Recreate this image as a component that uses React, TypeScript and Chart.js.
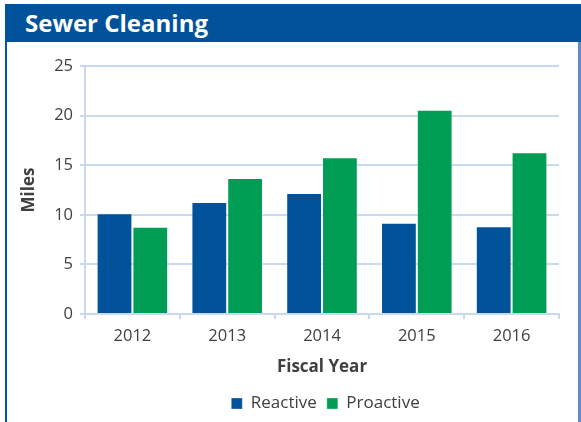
import React, { useEffect, useRef } from "react";
import { Chart, registerables } from "chart.js";

Chart.register(...registerables);

const categories = ["2012", "2013", "2014", "2015", "2016"];
const reactive = [10.15, 11.3, 12.2, 9.2, 8.85];
const proactive = [8.8, 13.7, 15.8, 20.6, 16.3];
const yTicks = [0, 5, 10, 15, 20, 25];

const BLUE = "#00529B";
const GREEN = "#009E55";
const GRID = "#C9D9EF";
const TEXT = "#404040";
const FONT = "'Open Sans', sans-serif";

const legendShift = {
  id: "legendShift",
  afterLayout(chart: any) {
    const lg = chart.legend;
    if (lg) {
      lg.left += 46;
      lg.right += 46;
    }
  },
};

export default function App() {
  const ref = useRef<HTMLCanvasElement | null>(null);

  useEffect(() => {
    if (!ref.current) return;
    const chart = new Chart(ref.current, {
      type: "bar",
      data: {
        labels: categories,
        datasets: [
          {
            label: "Reactive",
            data: reactive,
            backgroundColor: BLUE,
            borderColor: "rgba(255,255,255,0.3)",
            borderWidth: 1,
            categoryPercentage: 0.755,
            barPercentage: 1,
          },
          {
            label: "Proactive",
            data: proactive,
            backgroundColor: GREEN,
            borderColor: "rgba(255,255,255,0.3)",
            borderWidth: 1,
            categoryPercentage: 0.755,
            barPercentage: 1,
          },
        ],
      },
      plugins: [legendShift],
      options: {
        animation: false,
        responsive: false,
        maintainAspectRatio: false,
        layout: { padding: { top: 66, left: 0, right: 22, bottom: 0 } },
        plugins: {
          title: { display: false },
          tooltip: { enabled: false },
          legend: {
            position: "bottom",
            labels: {
              boxWidth: 11,
              boxHeight: 11,
              padding: 10,
              color: TEXT,
              font: { family: FONT, size: 17 },
            },
          },
        },
        scales: {
          x: {
            grid: {
              display: true,
              drawOnChartArea: false,
              drawTicks: true,
              tickLength: 5,
              color: GRID,
              lineWidth: 2,
              offset: true,
            },
            border: { color: GRID, width: 2 },
            ticks: {
              color: TEXT,
              padding: 7,
              font: { family: FONT, size: 16.5 },
            },
            title: {
              display: true,
              text: "Fiscal Year",
              color: TEXT,
              font: { family: FONT, size: 17, weight: "bold" },
              padding: { top: 0, bottom: 8 },
            },
            afterFit: (scale: any) => {
              scale.height = 71;
            },
          },
          y: {
            min: 0,
            max: 25,
            afterBuildTicks: (scale: any) => {
              scale.ticks = yTicks.map((v) => ({ value: v }));
            },
            grid: {
              color: GRID,
              lineWidth: 2,
              tickLength: 5,
            },
            border: { color: GRID, width: 2 },
            ticks: {
              color: TEXT,
              padding: 7,
              font: { family: FONT, size: 16.5 },
            },
            title: {
              display: true,
              text: "Miles",
              color: TEXT,
              font: { family: FONT, size: 17, weight: "bold" },
              padding: { top: 19, bottom: 0 },
            },
            afterFit: (scale: any) => {
              scale.width = 85;
            },
          },
        },
      },
    });
    return () => chart.destroy();
  }, []);

  return (
    <div
      style={{
        position: "fixed",
        left: 0,
        top: 0,
        width: 581,
        height: 422,
        background: "#fff",
        overflow: "hidden",
      }}
    >
      <canvas
        ref={ref}
        width={581}
        height={422}
        style={{ position: "absolute", left: 0, top: 0, width: 581, height: 422 }}
      />
      <div
        style={{
          position: "absolute",
          left: 5,
          top: 4,
          width: 2,
          height: 418,
          background: "#0055A5",
        }}
      />
      <div
        style={{
          position: "absolute",
          left: 578,
          top: 4,
          width: 3,
          height: 418,
          background: "#5B8FC9",
        }}
      />
      <div
        style={{
          position: "absolute",
          left: 6,
          top: 4,
          width: 575,
          height: 38,
          background: BLUE,
          color: "#fff",
          fontFamily: FONT,
          fontWeight: 700,
          fontSize: 24,
          lineHeight: "38px",
          paddingLeft: 19,
          boxSizing: "border-box",
        }}
      >
        Sewer Cleaning
      </div>
    </div>
  );
}
